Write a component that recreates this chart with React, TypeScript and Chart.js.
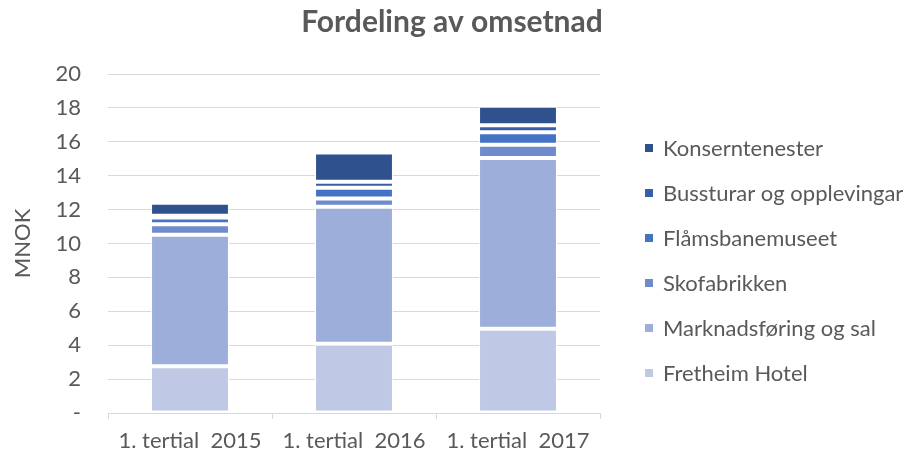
import React, { useEffect, useRef } from "react";
import { Chart, registerables } from "chart.js";

Chart.register(...registerables);

const categories = ["1. tertial  2015", "1. tertial  2016", "1. tertial  2017"];
const fretheimHotel = [2.76, 4.08, 4.97];
const marknadsforing = [7.76, 8.09, 10.07];
const skofabrikken = [0.61, 0.49, 0.78];
const flamsbanemuseet = [0.41, 0.63, 0.75];
const bussturar = [0.1, 0.35, 0.41];
const konserntenester = [0.76, 1.73, 1.14];
const yTicks = [0, 2, 4, 6, 8, 10, 12, 14, 16, 18, 20];
const chartTitle = "Fordeling av omsetnad";

const FONT = "Lato, 'Open Sans', sans-serif";
const TEXT = "#595959";

const decorPlugin = {
  id: "decor",
  afterDraw(chart: any) {
    const { ctx, chartArea, width } = chart;
    ctx.save();
    // title
    ctx.font = `bold 30px ${FONT}`;
    ctx.fillStyle = TEXT;
    ctx.textAlign = "center";
    ctx.textBaseline = "alphabetic";
    ctx.fillText(chartTitle, width / 2 - 3, 32);
    // legend
    const ds = chart.data.datasets.slice().reverse();
    const x = chartArea.right + 45;
    const rowH = 45;
    const cy = (chartArea.top + chartArea.bottom) / 2 + 17;
    const y0 = cy - ((ds.length - 1) * rowH) / 2;
    ctx.font = `22px ${FONT}`;
    ctx.textBaseline = "middle";
    ctx.textAlign = "left";
    ds.forEach((d: any, i: number) => {
      const y = y0 + i * rowH;
      ctx.fillStyle = d.backgroundColor;
      ctx.fillRect(x, y - 4, 8, 8);
      ctx.fillStyle = TEXT;
      ctx.fillText(d.label, x + 18, y + 1);
    });
    ctx.restore();
  },
};

export default function App() {
  const ref = useRef<HTMLCanvasElement | null>(null);
  useEffect(() => {
    document.body.style.margin = "0";
    const ctx = ref.current!;
    const mk = (label: string, data: number[], color: string) => ({
      label,
      data,
      backgroundColor: color,
      borderColor: "#ffffff",
      borderWidth: { top: 2, bottom: 2, left: 1, right: 1 },
      borderSkipped: false as const,
      barPercentage: 1,
      categoryPercentage: 0.475,
    });
    const chart = new Chart(ctx, {
      type: "bar",
      data: {
        labels: categories,
        datasets: [
          mk("Fretheim Hotel", fretheimHotel, "#BFC9E5"),
          mk("Marknadsføring og sal", marknadsforing, "#9DAEDA"),
          mk("Skofabrikken", skofabrikken, "#6F8BCB"),
          mk("Flåmsbanemuseet", flamsbanemuseet, "#4472C4"),
          mk("Bussturar og opplevingar", bussturar, "#3A5DA8"),
          mk("Konserntenester", konserntenester, "#2F528F"),
        ],
      },
      plugins: [decorPlugin],
      options: {
        animation: false,
        responsive: false,
        maintainAspectRatio: false,
        layout: { padding: { left: 10, right: 310, top: 74, bottom: 0 } },
        plugins: {
          title: { display: false },
          legend: { display: false },
          tooltip: { enabled: false },
        },
        scales: {
          x: {
            stacked: true,
            grid: {
              drawOnChartArea: false,
              drawTicks: true,
              tickLength: 6,
              color: "#D9D9D9",
              offset: true,
            },
            border: { color: "#D9D9D9" },
            ticks: { color: TEXT, font: { family: FONT, size: 22 }, padding: 9 },
            afterFit: (s: any) => {
              s.height = 42;
              s.paddingLeft = 0;
              s.paddingRight = 0;
            },
          },
          y: {
            stacked: true,
            min: 0,
            max: 20,
            afterBuildTicks: (axis: any) => {
              axis.ticks = yTicks.map((v) => ({ value: v }));
            },
            afterFit: (s: any) => {
              s.width = 98;
              s.paddingTop = 0;
              s.paddingBottom = 0;
            },
            grid: { color: "#D9D9D9", drawTicks: false },
            border: { display: false },
            ticks: {
              color: TEXT,
              font: { family: FONT, size: 22 },
              padding: 27,
              callback: (v: any) => (Number(v) === 0 ? "-" : String(v)),
            },
            title: {
              display: true,
              text: "MNOK",
              color: TEXT,
              font: { family: FONT, size: 22 },
              padding: { top: 0, bottom: 20 },
            },
          },
        },
      },
    });
    return () => chart.destroy();
  }, []);
  return <canvas ref={ref} width={910} height={455} style={{ display: "block" }} />;
}
